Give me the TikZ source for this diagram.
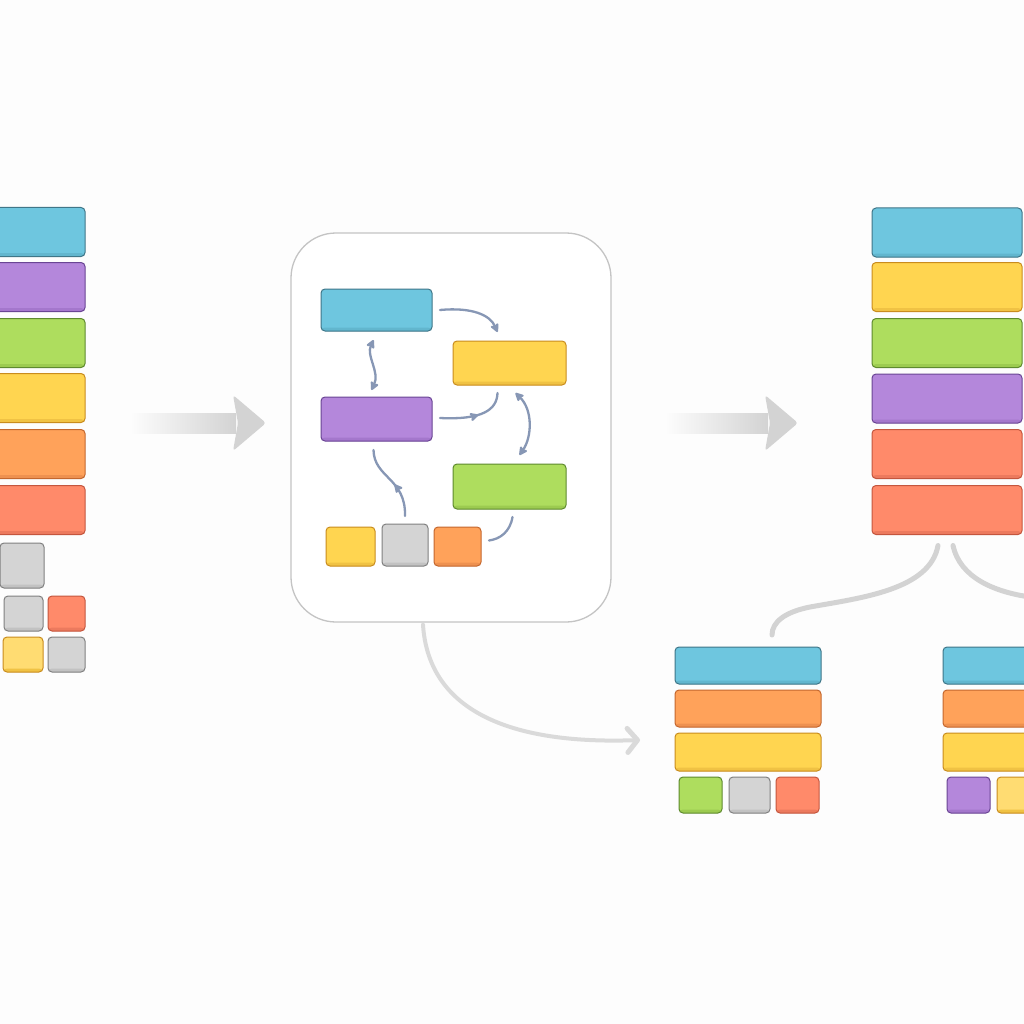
\documentclass[tikz,border=0pt]{standalone}
\usetikzlibrary{arrows.meta,calc,decorations.markings}
\definecolor{bgc}{HTML}{FDFDFD}
\definecolor{BlueF}{HTML}{6EC6DF}\definecolor{BlueS}{HTML}{3F7688}\definecolor{BlueL}{HTML}{62B6CE}
\definecolor{PurF}{HTML}{B487DB}\definecolor{PurS}{HTML}{6A4594}\definecolor{PurL}{HTML}{A477CC}
\definecolor{GrnF}{HTML}{AEDD5E}\definecolor{GrnS}{HTML}{5E8A2E}\definecolor{GrnL}{HTML}{9CCB50}
\definecolor{YelF}{HTML}{FFD550}\definecolor{YelS}{HTML}{C98C1E}\definecolor{YelL}{HTML}{F0C244}
\definecolor{YelPF}{HTML}{FFDC72}
\definecolor{OrgF}{HTML}{FFA25A}\definecolor{OrgS}{HTML}{C4672E}\definecolor{OrgL}{HTML}{EE9150}
\definecolor{RedF}{HTML}{FF8A6A}\definecolor{RedS}{HTML}{C4563E}\definecolor{RedL}{HTML}{EC7A5E}
\definecolor{GryF}{HTML}{D4D4D4}\definecolor{GryS}{HTML}{808080}\definecolor{GryL}{HTML}{C2C2C2}
\definecolor{arrc}{HTML}{8797B5}
\definecolor{bigar}{HTML}{D3D3D3}
\definecolor{frame}{HTML}{C4C4C4}
\tikzset{
  box/.style={rounded corners=4pt, line width=1pt, inner sep=0pt, outer sep=0pt},
  lip/.style={path picture={\fill[#1] (path picture bounding box.south west) rectangle ([yshift=3.5pt]path picture bounding box.south east);}},
  cblue/.style={box, fill=BlueF, draw=BlueS, lip=BlueL},
  cpur/.style={box, fill=PurF, draw=PurS, lip=PurL},
  cgrn/.style={box, fill=GrnF, draw=GrnS, lip=GrnL},
  cyel/.style={box, fill=YelF, draw=YelS, lip=YelL},
  cyelp/.style={box, fill=YelPF, draw=YelS, lip=YelL},
  corg/.style={box, fill=OrgF, draw=OrgS, lip=OrgL},
  cred/.style={box, fill=RedF, draw=RedS, lip=RedL},
  cgry/.style={box, fill=GryF, draw=GryS, lip=GryL},
  flow/.style={draw=arrc, line width=2.3pt, line cap=round},
  tip/.style={-{Stealth[length=10pt,width=10pt,round,inset=2pt]}},
  dtip/.style={{Stealth[length=10pt,width=10pt,round,inset=2pt]}-{Stealth[length=10pt,width=10pt,round,inset=2pt]}},
  midtip/.style={postaction={decorate}, decoration={markings, mark=at position #1 with {\arrow{Stealth[length=10pt,width=10pt,round,inset=2pt]}}}},
  branch/.style={draw=bigar, line width=5pt, line cap=round},
}
\begin{document}
\begin{tikzpicture}[x=1pt,y=-1pt]
\clip (0,0) rectangle (1024,1024);
\fill[bgc] (0,0) rectangle (1024,1024);
\useasboundingbox (0,0) rectangle (1024,1024);

% ---------- left stack ----------
\foreach \n/\s/\y in {L1/cblue/232, L2/cpur/287, L3/cgrn/343, L4/cyel/398, L5/corg/454, L6/cred/510}
  \node[\s, minimum width=105pt, minimum height=49pt] (\n) at (32.5,\y) {};
\node[cgry, minimum width=44pt, minimum height=45pt] (Ls1) at (22,565.5) {};
\node[cgry, minimum width=39pt, minimum height=35pt] (Ls2) at (23.5,613.5) {};
\node[cred, minimum width=37pt, minimum height=35pt] (Ls3) at (66.5,613.5) {};
\node[cyelp, minimum width=40pt, minimum height=35pt] (Ls4) at (23,654.5) {};
\node[cgry, minimum width=37pt, minimum height=35pt] (Ls5) at (66.5,654.5) {};

% ---------- big arrow 1 ----------
\coordinate (a1s) at (130,423);
\coordinate (a1e) at (266,423);
\shade[left color=bgc, right color=bigar] ($(a1s)+(0,-10)$) rectangle ($(a1e)+(-30,10)$);
\fill[bigar, rounded corners=3pt] ($(a1e)+(-33,-28)$) -- (a1e) -- ($(a1e)+(-33,28)$) -- ($(a1e)+(-28,0)$) -- cycle;

% ---------- middle frame ----------
\node[draw=frame, line width=1.3pt, fill=white, rounded corners=45pt, minimum width=320pt, minimum height=389pt, inner sep=0pt] (mid) at (451,427.5) {};
\node[cblue, minimum width=111pt, minimum height=42pt] (mb) at (376.5,310) {};
\node[cyel, minimum width=113pt, minimum height=44pt] (my) at (509.5,363) {};
\node[cpur, minimum width=111pt, minimum height=44pt] (mp) at (376.5,419) {};
\node[cgrn, minimum width=113pt, minimum height=45pt] (mg) at (509.5,486.5) {};
\node[cyel, minimum width=49pt, minimum height=39pt] (ms1) at (350.5,546.5) {};
\node[cgry, minimum width=46pt, minimum height=42pt] (ms2) at (405,545) {};
\node[corg, minimum width=47pt, minimum height=39pt] (ms3) at (457.5,546.5) {};

\draw[flow, tip] ($(mb.east)+(8,0)$) .. controls (472,307) and (490,315) .. ($(my.north)+(-12,-9)$);
\draw[flow, dtip] ($(mb.south)+(-3,9)$) .. controls (366,356) and (380,372) .. ($(mp.north)+(-5,-7)$);
\draw[flow, midtip=0.55] ($(mp.east)+(8,-1)$) .. controls (482,420) and (497,410) .. ($(my.south)+(-12,8)$);
\draw[flow, dtip] ($(my.south)+(6,8)$) .. controls (533,410) and (532,437) .. ($(mg.north)+(10,-9)$);
\draw[flow, midtip=0.45] ($(ms2.north)+(0,-8)$) .. controls (406,478) and (374,478) .. ($(mp.south)+(-3,9)$);
\draw[flow] ($(mg.south)+(3,8)$) .. controls (510,532) and (500,539) .. ($(ms3.east)+(8,-6)$);

% ---------- big arrow 2 ----------
\coordinate (a2s) at (665,423);
\coordinate (a2e) at (798,423);
\shade[left color=bgc, right color=bigar] ($(a2s)+(0,-10)$) rectangle ($(a2e)+(-30,10)$);
\fill[bigar, rounded corners=3pt] ($(a2e)+(-33,-28)$) -- (a2e) -- ($(a2e)+(-33,28)$) -- ($(a2e)+(-28,0)$) -- cycle;

% ---------- right stack ----------
\foreach \n/\s/\y in {R1/cblue/232.5, R2/cyel/287, R3/cgrn/343, R4/cpur/398.5, R5/cred/454, R6/cred/510}
  \node[\s, minimum width=150pt, minimum height=49pt] (\n) at (947,\y) {};

% ---------- bottom left stack ----------
\node[cblue, minimum width=146pt, minimum height=37pt] (B1) at (748,665.5) {};
\node[corg, minimum width=146pt, minimum height=37pt] (B2) at (748,708.5) {};
\node[cyel, minimum width=146pt, minimum height=38pt] (B3) at (748,752) {};
\node[cgrn, minimum width=43pt, minimum height=36pt] (Bs1) at (700.5,795) {};
\node[cgry, minimum width=41pt, minimum height=36pt] (Bs2) at (749.5,795) {};
\node[cred, minimum width=43pt, minimum height=36pt] (Bs3) at (797.5,795) {};

% ---------- bottom right stack ----------
\node[cblue, minimum width=146pt, minimum height=37pt] (C1) at (1016,665.5) {};
\node[corg, minimum width=146pt, minimum height=37pt] (C2) at (1016,708.5) {};
\node[cyel, minimum width=146pt, minimum height=38pt] (C3) at (1016,752) {};
\node[cpur, minimum width=43pt, minimum height=36pt] (Cs1) at (968.5,795) {};
\node[cyelp, minimum width=43pt, minimum height=36pt] (Cs2) at (1018.5,795) {};

% ---------- connectors ----------
\draw[draw=bigar!85!white, line width=4pt, line cap=round, line join=round, -{Straight Barb[length=10pt,width=24pt,line width=5pt,line cap=round, line join=round]}]
  ($(mid.south)+(-28,2)$) .. controls (428,705) and (500,745) .. ($(B3.west)+(-35,-12)$);
\coordinate (rend) at (1030,597);
\draw[branch] ($(R6.south)+(-9,11)$) .. controls (930,590) and (860,598) .. (810,607) .. controls (785,612) and (772,622) .. ($(B1.north)+(24,-12)$);
\draw[branch] ($(R6.south)+(6,11)$) .. controls (960,578) and (995,592) .. (rend);
\end{tikzpicture}
\end{document}
